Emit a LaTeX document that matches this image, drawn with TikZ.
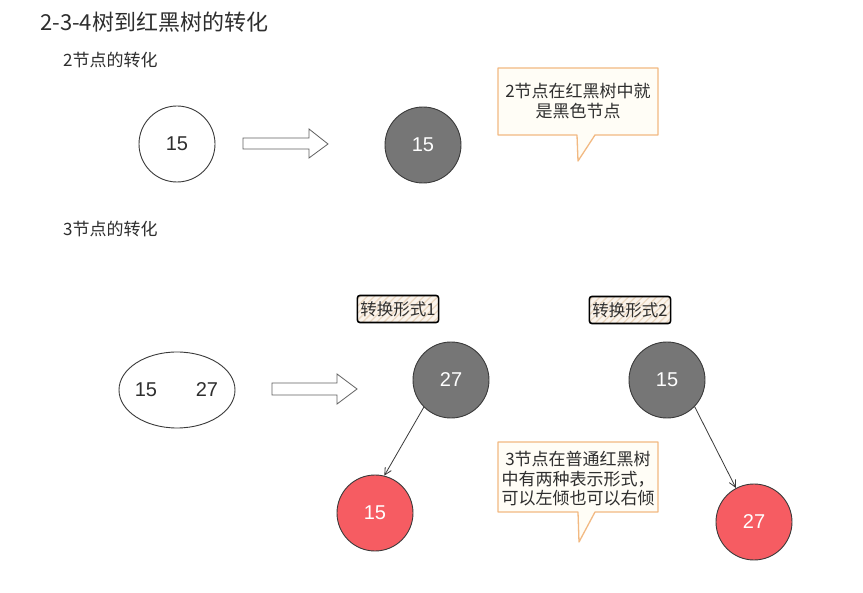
\documentclass[tikz,border=0pt]{standalone}
\usepackage{fontspec}
\setmainfont{Noto Sans CJK SC}
\newfontfamily\numfont{Liberation Sans}
\usetikzlibrary{arrows.meta,patterns.meta,shapes.geometric}
\definecolor{txt}{HTML}{2E2E2E}
\definecolor{nodegray}{HTML}{767676}
\definecolor{nodered}{HTML}{F65C62}
\definecolor{edge}{HTML}{3A3A3A}
\definecolor{calloutfill}{HTML}{FFFDF6}
\definecolor{calloutline}{HTML}{F2B982}
\definecolor{labelfill}{HTML}{FBF4EC}
\definecolor{hatch}{HTML}{EBD8C2}
\tikzset{
  titletext/.style={anchor=west, text=txt, inner sep=0pt, font=\fontsize{22}{26}\selectfont},
  subtext/.style={anchor=west, text=txt, inner sep=0pt, font=\fontsize{17}{20}\selectfont},
  treenode/.style={circle, minimum size=76pt, inner sep=0pt, draw=edge, line width=0.9pt, font=\numfont\fontsize{20}{24}\selectfont},
  whitenode/.style={treenode, fill=white, text=txt},
  blacknode/.style={treenode, fill=nodegray, text=white},
  rednode/.style={treenode, fill=nodered, text=white},
  hollowarrow/.style={draw=edge!80, line width=0.8pt, fill=white, line join=miter},
  callout/.style={draw=calloutline, line width=1.3pt, fill=calloutfill, line join=round},
  callouttext/.style={align=center, text=txt, inner sep=0pt, font=\fontsize{17}{19.5}\selectfont},
  formlabel/.style={draw=black, line width=1.6pt, rounded corners=2.5pt,
    preaction={fill=labelfill},
    pattern={Lines[angle=45,distance=5pt,line width=1.3pt]}, pattern color=hatch,
    text=txt, inner xsep=3pt, minimum height=27pt, font=\fontsize{16.5}{20}\selectfont},
  link/.style={draw=edge, line width=0.8pt, -{Straight Barb[length=7pt,width=7pt]}},
}
\begin{document}
\begin{tikzpicture}[x=1pt,y=-1pt]
\useasboundingbox[fill=white] (0,0) rectangle (863,593);

% titles
\node[titletext] (title) at (40,22) {2-3-4树到红黑树的转化};
\node[subtext] (sub2) at (63,60) {2节点的转化};
\node[subtext] (sub3) at (63,229) {3节点的转化};

% 2-node
\node[whitenode] (n15a) at (177,144) {15};
\draw[hollowarrow] (243,138) -- (309,138) -- (309,129) -- (328,144) -- (309,158) -- (309,149) -- (243,149) -- cycle;
\node[blacknode] (b15a) at (423,145) {15};

% callout 1
\draw[callout] (498,68) -- (658,68) -- (658,135) -- (595,135) -- (578,161) -- (577,135) -- (498,135) -- cycle;
\node[callouttext] (c1) at (578,101) {2节点在红黑树中就\\是黑色节点};

% 3-node
\node[draw=edge, line width=0.9pt, ellipse, minimum width=116pt, minimum height=76pt, fill=white] (ell) at (177,390) {};
\node[text=txt, font=\numfont\fontsize{20}{24}\selectfont, inner sep=0pt] (e15) at (146,390) {15};
\node[text=txt, font=\numfont\fontsize{20}{24}\selectfont, inner sep=0pt] (e27) at (207,390) {27};
\draw[hollowarrow] (272,383) -- (337,383) -- (337,374) -- (357,389) -- (337,404) -- (337,395) -- (272,395) -- cycle;

% form labels
\node[formlabel] (f1) at (398,309) {转换形式1};
\node[formlabel] (f2) at (630,310) {转换形式2};

% form 1
\node[blacknode] (b27) at (451,380) {27};
\node[rednode] (r15) at (375,513) {15};
\draw[link] (b27.225) -- (r15.76);

% form 2
\node[blacknode] (b15) at (667,380) {15};
\node[rednode] (r27) at (754,522) {27};
\draw[link] (b15.316) -- (r27.118);

% callout 2
\draw[callout] (498,442) -- (658,442) -- (658,512) -- (595,512) -- (579,542) -- (578,512) -- (498,512) -- cycle;
\node[callouttext] (c2) at (578,479) {3节点在普通红黑树\\中有两种表示形式，\\可以左倾也可以右倾};
\end{tikzpicture}
\end{document}
